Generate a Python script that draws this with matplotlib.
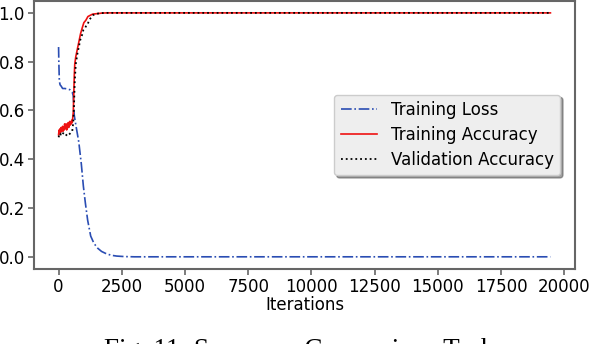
import matplotlib
matplotlib.use("Agg")
import matplotlib.pyplot as plt

# training loss
loss_iter = [0, 10, 30, 60, 100, 160, 250, 350, 450, 540, 580, 620, 700, 800, 900, 980,
             1060, 1150, 1270, 1400, 1550, 1700, 1900, 2100, 2300, 2600, 3000, 19450]
loss_val = [0.86, 0.80, 0.72, 0.705, 0.70, 0.69, 0.69, 0.688, 0.685, 0.675, 0.66, 0.58,
            0.53, 0.47, 0.38, 0.29, 0.22, 0.15, 0.085, 0.055, 0.035, 0.022, 0.012, 0.006,
            0.003, 0.001, 0.0, 0.0]

# training accuracy
tacc_iter = [0, 20, 40, 60, 80, 100, 120, 140, 160, 180, 200, 220, 240, 260, 280, 300,
             320, 340, 360, 380, 400, 420, 440, 460, 480, 500, 520, 540, 560, 580, 600,
             620, 640, 680, 740, 800, 870, 940, 1000, 1080, 1160, 1250, 1350, 1530, 1700,
             1900, 2200, 19450]
tacc_val = [0.50, 0.52, 0.505, 0.525, 0.51, 0.53, 0.515, 0.52, 0.535, 0.515, 0.53, 0.52,
            0.545, 0.525, 0.53, 0.545, 0.52, 0.54, 0.535, 0.55, 0.53, 0.545, 0.555, 0.54,
            0.55, 0.545, 0.56, 0.55, 0.57, 0.59, 0.66, 0.74, 0.79, 0.82, 0.85, 0.88, 0.915,
            0.94, 0.96, 0.97, 0.985, 0.99, 0.995, 0.997, 0.999, 1.0, 1.0, 1.0]

# validation accuracy
vacc_iter = [0, 30, 60, 90, 120, 150, 200, 250, 300, 350, 400, 450, 500, 540, 580, 610,
             640, 680, 740, 800, 860, 930, 980, 1060, 1100, 1160, 1200, 1280, 1350, 1450,
             1600, 1800, 2100, 19450]
vacc_val = [0.49, 0.50, 0.495, 0.505, 0.50, 0.50, 0.51, 0.505, 0.50, 0.495, 0.50, 0.505,
            0.51, 0.515, 0.55, 0.62, 0.72, 0.79, 0.83, 0.86, 0.89, 0.91, 0.93, 0.94, 0.95,
            0.955, 0.97, 0.98, 0.99, 0.995, 0.998, 1.0, 1.0, 1.0]

plt.rcParams["font.family"] = ["DejaVu Sans"]

fig = plt.figure(figsize=(5.9, 3.44), dpi=100)
ax = fig.add_axes([0.0576, 0.218, 0.917, 0.780])

ax.plot(loss_iter, loss_val, "-.", color="#2a4db3", lw=1.2, label="Training Loss")
ax.plot(tacc_iter, tacc_val, "-", color="#ee1111", lw=1.2, label="Training Accuracy")
ax.plot(vacc_iter, vacc_val, ":", color="black", lw=1.3, label="Validation Accuracy")

ax.set_xticks(range(0, 20001, 2500))
ax.set_yticks([0.0, 0.2, 0.4, 0.6, 0.8, 1.0])
ax.tick_params(labelsize=12, color="#666666", width=1.2, length=4, pad=2.5)
for s in ax.spines.values():
    s.set_color("#666666")
    s.set_linewidth(1.5)
ax.set_xlabel("Iterations", fontsize=12, labelpad=0)

leg = ax.legend(loc="center right", bbox_to_anchor=(0.988, 0.50), fontsize=12,
                shadow=True, facecolor="#eeeeee", edgecolor="#cccccc", framealpha=1,
                handlelength=2.2, labelspacing=0.4)

fig.text(0.507, 1 - 357 / 344, "Fig. 11: Sequence Comparison Task", ha="center",
         va="baseline", fontsize=19.5, family=["Liberation Serif", "DejaVu Serif"])

fig.savefig("out.png", dpi=100)
